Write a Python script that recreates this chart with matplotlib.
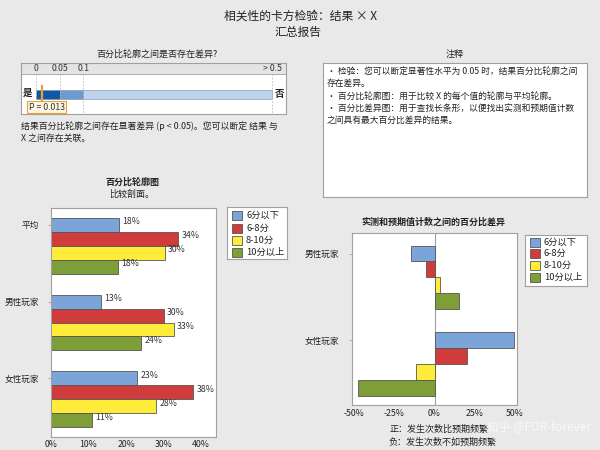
import matplotlib
matplotlib.use("Agg")
import matplotlib.pyplot as plt
from matplotlib.patches import Rectangle
import matplotlib.transforms as mtransforms
import numpy as np

plt.rcParams['font.family'] = ['Noto Sans CJK SC', 'DejaVu Sans']

# ---------------- data ----------------
title_main = "相关性的卡方检验：结果 × X"
title_sub = "汇总报告"
p_value = 0.013
p_scale_ticks = [0, 0.05, 0.1, 0.5]
p_scale_labels = ["0", "0.05", "0.1", "> 0.5"]
p_segment_colors = ["#0F58A8", "#6C9BD4", "#BDD3EE"]

categories = ["6分以下", "6-8分", "8-10分", "10分以上"]
profile_groups = ["平均", "男性玩家", "女性玩家"]
profile_avg = [18.1, 33.8, 30.3, 17.8]
profile_male = [13.3, 30.0, 32.7, 24.1]
profile_female = [23.0, 37.8, 28.0, 10.9]
profile_ticks = [0, 10, 20, 30, 40]

diff_groups = ["男性玩家", "女性玩家"]
diff_male = [-14.4, -5.4, 3.7, 15.0]
diff_female = [49.5, 20.0, -11.5, -48.0]
diff_ticks = [-50, -25, 0, 25, 50]

notes = [
    "• 检验：您可以断定显著性水平为 0.05 时，结果百分比轮廓之间",
    "存在差异。",
    "• 百分比轮廓图：用于比较 X 的每个值的轮廓与平均轮廓。",
    "• 百分比差异图：用于查找长条形，以便找出实测和预期值计数",
    "之间具有最大百分比差异的结果。",
]

colors = ["#7BA4D9", "#D03B3B", "#FFEC3A", "#7E9F37"]
edge = "#555555"
bg = "#E9E9E9"
txt = "#222222"

W, H = 600, 450
fig = plt.figure(figsize=(6, 4.5), dpi=100, facecolor=bg)


def ax_px(x0, y0, x1, y1, **kw):
    return fig.add_axes([x0 / W, 1 - y1 / H, (x1 - x0) / W, (y1 - y0) / H], **kw)


def ftext(x, y, s, **kw):
    kw.setdefault("color", txt)
    return fig.text(x / W, 1 - y / H, s, **kw)


# ---------------- titles ----------------
ftext(300, 16, title_main, ha="center", va="center", fontsize=8.5)
ftext(298, 32, title_sub, ha="center", va="center", fontsize=8.5)

# ---------------- p-value panel ----------------
ftext(157, 54, "百分比轮廓之间是否存在差异?", ha="center", va="center", fontsize=6.5)
pax = ax_px(21, 63, 286, 114)
px0, px1 = 36, 272  # pixel position of 0 and 0.5
sc = (px1 - px0) / 0.5
pax.set_xlim(-(px0 - 21) / sc, 0.5 + (286 - px1) / sc)
pax.set_ylim(51, 0)
pax.set_facecolor("white")
pax.set_xticks([]); pax.set_yticks([])
for s in pax.spines.values():
    s.set_color("#A0A0A0"); s.set_linewidth(0.8)
xl = pax.get_xlim()
pax.add_patch(Rectangle((xl[0], 0), xl[1] - xl[0], 11, facecolor="#E4E4E4",
                        edgecolor="#A0A0A0", linewidth=0.6))
for t, lab in zip(p_scale_ticks, p_scale_labels):
    pax.text(t, 5.8, lab, ha="center", va="center", fontsize=6.3, color="#333333")
    pax.plot([t, t], [11, 51], ls=(0, (2, 2)), color="#BBBBBB", lw=0.6)
for i in range(3):
    a, b = p_scale_ticks[i], p_scale_ticks[i + 1]
    pax.add_patch(Rectangle((a, 27), b - a, 9, facecolor=p_segment_colors[i],
                            edgecolor="#7A8A9A", linewidth=0.4))
pax.plot([p_value, p_value], [23, 40], color="#E8A03A", lw=1.6)
off = mtransforms.offset_copy(pax.transData, fig=fig, x=3.3, y=0, units="points")
pax.text(p_value, 44, f"P = {p_value}", ha="center", va="center", fontsize=6.3,
         color="#333333", transform=off,
         bbox=dict(boxstyle="square,pad=0.15", facecolor="#FFF6E0",
                   edgecolor="#E8A03A", linewidth=0.8))
ftext(28, 93, "是", ha="center", va="center", fontsize=6.8, fontweight="bold")
ftext(280, 94, "否", ha="center", va="center", fontsize=6.8, fontweight="bold")
ftext(21, 126, "结果百分比轮廓之间存在显著差异 (p < 0.05)。您可以断定 结果 与",
      ha="left", va="center", fontsize=6.4)
ftext(21, 138, "X 之间存在关联。", ha="left", va="center", fontsize=6.4)

# ---------------- notes panel ----------------
ftext(455, 54, "注释", ha="center", va="center", fontsize=6.5)
nax = ax_px(323, 63, 587, 197)
nax.set_facecolor("white"); nax.set_xticks([]); nax.set_yticks([])
for s in nax.spines.values():
    s.set_color("#A0A0A0"); s.set_linewidth(0.8)
for i, line in enumerate(notes):
    ftext(327, 71.5 + i * 12.2, line, ha="left", va="center", fontsize=6.3)


def style_axes(ax):
    ax.set_facecolor("white")
    for s in ax.spines.values():
        s.set_color("#A0A0A0"); s.set_linewidth(0.8)
    ax.tick_params(colors="#A0A0A0", labelcolor=txt, labelsize=6.3, length=2.5, width=0.6)


def legend_box(x0, y0, x1, y1, ys):
    lax = ax_px(x0, y0, x1, y1)
    lax.set_xlim(x0, x1); lax.set_ylim(y1, y0)
    lax.set_facecolor("white"); lax.set_xticks([]); lax.set_yticks([])
    for s in lax.spines.values():
        s.set_color("#A0A0A0"); s.set_linewidth(0.8)
    for c, lab, yy in zip(colors, categories, ys):
        lax.add_patch(Rectangle((x0 + 4.5, yy - 4.5), 10, 9, facecolor=c,
                                edgecolor=edge, linewidth=0.6))
        lax.text(x0 + 19, yy, lab, ha="left", va="center", fontsize=6.7, color=txt)


# ---------------- profile chart ----------------
ftext(132, 182, "百分比轮廓图", ha="center", va="center", fontsize=6.5, fontweight="bold")
ftext(132, 194, "比较剖面。", ha="center", va="center", fontsize=6.5)
ax1 = ax_px(51, 208, 216, 437)
style_axes(ax1)
gap = 5.5
prof = [profile_avg, profile_male, profile_female]
for g, vals in enumerate(prof):
    for j, v in enumerate(vals):
        y = g * gap + j
        ax1.barh(y, v, height=1.0, color=colors[j], edgecolor=edge, linewidth=0.6)
        ax1.annotate(f"{v:.0f}%", (v, y), xytext=(2.5, 2.2), textcoords="offset points",
                     ha="left", va="center", fontsize=6.3, color="#333333")
ax1.set_ylim(2 * gap + 3 + 1.2, -1.2)
ax1.set_xlim(0, 44)
ax1.set_yticks([g * gap for g in range(len(profile_groups))])
ax1.set_yticklabels(profile_groups, fontsize=6.2)
ax1.set_xticks(profile_ticks)
ax1.set_xticklabels([f"{t}%" for t in profile_ticks])
ax1.tick_params(axis="x", length=0, pad=2)
ax1.tick_params(axis="y", pad=6)
legend_box(227, 207, 287, 259, [215.5, 228, 240.5, 252])

# ---------------- difference chart ----------------
ftext(433, 222, "实测和预期值计数之间的百分比差异", ha="center", va="center",
      fontsize=6.5, fontweight="bold")
ax2 = ax_px(352, 233, 517, 405)
style_axes(ax2)
gap2 = 5.5
for g, vals in enumerate([diff_male, diff_female]):
    for j, v in enumerate(vals):
        y = g * gap2 + j
        ax2.barh(y, v, height=1.0, color=colors[j], edgecolor=edge, linewidth=0.6)
ax2.axvline(0, color="#A0A0A0", lw=0.8, zorder=0)
ax2.set_ylim(gap2 + 3 + 1.1, -1.3)
ax2.set_xlim(-51.5, 51.5)
ax2.set_yticks([g * gap2 for g in range(len(diff_groups))])
ax2.set_yticklabels(diff_groups, fontsize=6.2)
ax2.set_xticks(diff_ticks)
ax2.set_xticklabels([f"{t}%" for t in diff_ticks])
ax2.tick_params(axis="x", length=0, pad=3)
ax2.tick_params(axis="y", pad=7)
legend_box(525, 235, 587, 286, [242, 253.5, 265.5, 277])

ftext(439, 429, "正：发生次数比预期频繁", ha="center", va="center", fontsize=6.5)
ftext(442, 442, "负：发生次数不如预期频繁", ha="center", va="center", fontsize=6.5)
ftext(539, 427, "知乎 @FOR-forever", ha="center", va="center", fontsize=8.5,
      color="white", alpha=0.75)

fig.savefig("out.png", dpi=100, facecolor=bg)
